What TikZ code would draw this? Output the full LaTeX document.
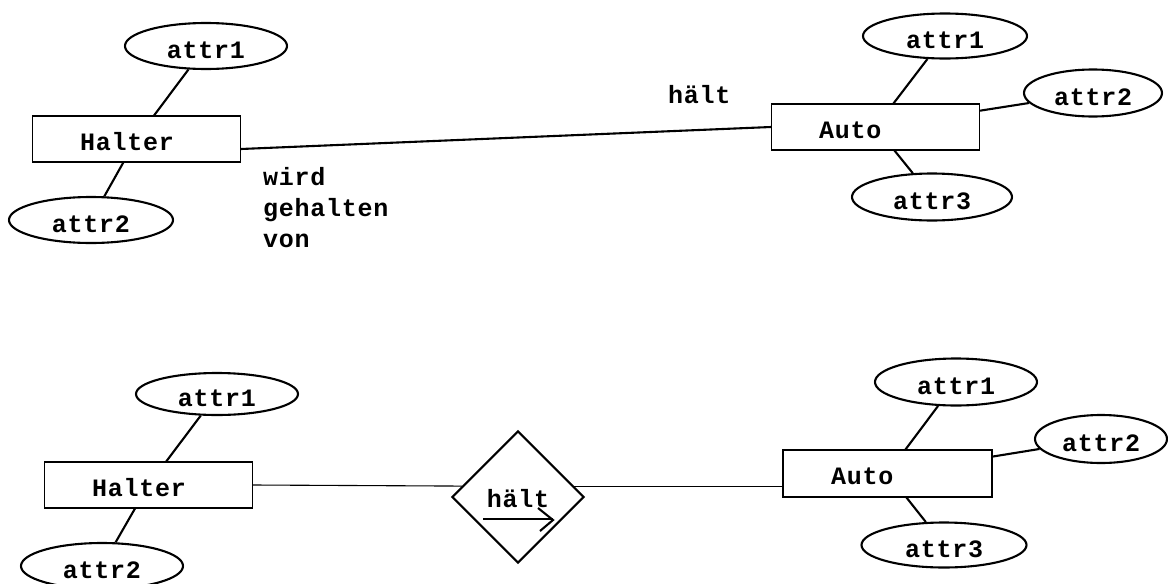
\documentclass[tikz,border=0pt]{standalone}
\usepackage{fontspec}
\newfontfamily\cour[LetterSpace=3]{Liberation Mono}
\usetikzlibrary{shapes.geometric}
\tikzset{
  every node/.style={font=\cour\bfseries\fontsize{25}{31}\selectfont},
  entbox/.style={rectangle, draw, line width=1.1pt, minimum height=46pt, minimum width=208pt,
    text width=113pt, inner xsep=47pt, inner ysep=0pt, align=left, text height=22pt, text depth=0pt},
  attrell/.style={ellipse, draw, line width=2.1pt, inner sep=0pt, text height=24pt, text depth=0pt},
  thick line/.style={line width=2.1pt},
  thin line/.style={line width=1.1pt},
  rel/.style={diamond, draw, line width=2.1pt, inner sep=0pt, minimum width=132pt, minimum height=132pt,
    text height=20pt, text depth=0pt},
  lbl/.style={inner sep=0pt}
}
\begin{document}
\begin{tikzpicture}[x=1pt,y=-1pt]
\useasboundingbox (0,0) rectangle (1168,584);
\clip (0,0) rectangle (1168,584);
% ---------- top diagram ----------
\node[entbox] (H1) at (136.5,139) {Halter};
\node[entbox] (A1) at (875.5,127) {Auto};
\node[attrell, minimum width=162pt, minimum height=46pt] (H1a1) at (206,46) {attr1};
\node[attrell, minimum width=164pt, minimum height=46pt] (H1a2) at (91,220) {attr2};
\node[attrell, minimum width=164pt, minimum height=45pt] (A1a1) at (945,36) {attr1};
\node[attrell, minimum width=138pt, minimum height=47pt] (A1a2) at (1093,93) {attr2};
\node[attrell, minimum width=160pt, minimum height=47pt] (A1a3) at (932,197) {attr3};
\draw[thick line] (H1a1) -- (H1);
\draw[thick line] (H1) -- (H1a2);
\draw[thick line] (A1a1) -- (A1);
\draw[thick line] (A1a2) -- (A1);
\draw[thick line] (A1) -- (A1a3);
\draw[thick line] ([yshift=-10pt]H1.east) -- (A1.west);
\node[lbl, anchor=base west] (l1) at (668,103) {hält};
\node[lbl, anchor=north west, align=left] (l2) at (263,167) {wird\\gehalten\\von};
% ---------- bottom diagram ----------
\node[entbox] (H2) at (148.5,485) {Halter};
\node[entbox, minimum width=209pt, minimum height=47pt] (A2) at (887.5,473.5) {Auto};
\node[attrell, minimum width=162pt, minimum height=42pt] (H2a1) at (217,394) {attr1};
\node[attrell, minimum width=162pt, minimum height=46pt] (H2a2) at (102,566) {attr2};
\node[attrell, minimum width=162pt, minimum height=47pt] (A2a1) at (956,382) {attr1};
\node[attrell, minimum width=132pt, minimum height=48pt] (A2a2) at (1101,439) {attr2};
\node[attrell, minimum width=165pt, minimum height=45pt] (A2a3) at (944,545) {attr3};
\node[rel] (D) at (518,497) {hält};
\draw[thick line] (H2a1) -- (H2);
\draw[thick line] (H2) -- (H2a2);
\draw[thick line] (A2a1) -- (A2);
\draw[thick line] (A2a2) -- (A2);
\draw[thick line] (A2) -- (A2a3);
\draw[thin line] (H2.east) -- (D.169);
\draw[thin line] (D.11) -- (D.11 -| A2.west);
% arrow under the relationship name
\draw[thin line] (483,519) -- (553,519);
\draw[thick line, line join=miter] (538,508) -- (553,520) -- (540,531);
\end{tikzpicture}
\end{document}
